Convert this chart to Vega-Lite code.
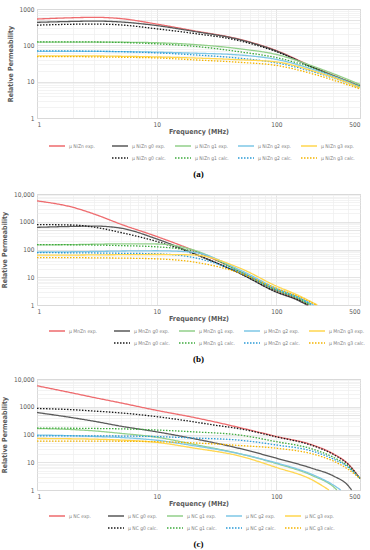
{
"$schema": "https://vega.github.io/schema/vega-lite/v6.json",
"padding": {"left": 0, "top": 5, "right": 4, "bottom": 0},
"spacing": 10,
"config": {
  "font": "Liberation Sans Narrow, DejaVu Sans Condensed, Roboto",
  "view": {"stroke": "#d9d9d9", "strokeWidth": 1},
  "axis": {"domain": false, "ticks": false, "labelFont": "Liberation Sans Narrow, DejaVu Sans Condensed, Roboto", "labelFontSize": 6.5, "labelColor": "#595959", "labelOverlap": false, "labelPadding": 3, "titleFont": "Liberation Sans Narrow, DejaVu Sans Condensed, Roboto", "titleFontSize": 7, "titleColor": "#595959", "titleFontWeight": "bold", "gridWidth": 0.7, "gridColor": {"condition": {"test": "indexof([1,10,100,1000,10000,500], datum.value) >= 0", "value": "#d9d9d9"}, "value": "#eeeeee"}},
  "legend": {"orient": "none", "legendX": 11, "legendY": 128, "direction": "horizontal", "columns": 5, "gridAlign": "all", "columnPadding": 6, "rowPadding": -2, "symbolType": "stroke", "symbolSize": 256, "symbolStrokeWidth": 1.5, "labelFontSize": 5, "labelColor": "#7f7f7f", "labelFont": "Liberation Sans Narrow, DejaVu Sans Condensed, Roboto", "labelOffset": 3, "title": null},
  "title": {"orient": "bottom", "font": "Liberation Serif", "fontWeight": "bold", "fontSize": 9, "color": "#000000", "anchor": "middle", "offset": 9},
  "line": {"strokeWidth": 1.3, "clip": true, "interpolate": "monotone"}
},
"datasets": {
"a": [
{"s":"μ NiZn exp.","f":1,"m":530},{"s":"μ NiZn exp.","f":2,"m":575},{"s":"μ NiZn exp.","f":3,"m":590},{"s":"μ NiZn exp.","f":5,"m":545},{"s":"μ NiZn exp.","f":10,"m":385},{"s":"μ NiZn exp.","f":20,"m":255},{"s":"μ NiZn exp.","f":50,"m":145},{"s":"μ NiZn exp.","f":100,"m":72},{"s":"μ NiZn exp.","f":200,"m":26},{"s":"μ NiZn exp.","f":300,"m":15},{"s":"μ NiZn exp.","f":500,"m":7.6},
{"s":"μ NiZn g0 exp.","f":1,"m":430},{"s":"μ NiZn g0 exp.","f":2,"m":455},{"s":"μ NiZn g0 exp.","f":3,"m":465},{"s":"μ NiZn g0 exp.","f":5,"m":440},{"s":"μ NiZn g0 exp.","f":10,"m":350},{"s":"μ NiZn g0 exp.","f":20,"m":245},{"s":"μ NiZn g0 exp.","f":50,"m":142},{"s":"μ NiZn g0 exp.","f":100,"m":70},{"s":"μ NiZn g0 exp.","f":200,"m":25},{"s":"μ NiZn g0 exp.","f":300,"m":14.5},{"s":"μ NiZn g0 exp.","f":500,"m":7.4},
{"s":"μ NiZn g0 calc.","f":1,"m":360},{"s":"μ NiZn g0 calc.","f":2,"m":380},{"s":"μ NiZn g0 calc.","f":3,"m":385},{"s":"μ NiZn g0 calc.","f":5,"m":365},{"s":"μ NiZn g0 calc.","f":10,"m":285},{"s":"μ NiZn g0 calc.","f":20,"m":215},{"s":"μ NiZn g0 calc.","f":50,"m":132},{"s":"μ NiZn g0 calc.","f":100,"m":67},{"s":"μ NiZn g0 calc.","f":200,"m":25},{"s":"μ NiZn g0 calc.","f":300,"m":14},{"s":"μ NiZn g0 calc.","f":500,"m":7.1},
{"s":"μ NiZn g1 exp.","f":1,"m":123},{"s":"μ NiZn g1 exp.","f":2,"m":123},{"s":"μ NiZn g1 exp.","f":3,"m":123},{"s":"μ NiZn g1 exp.","f":5,"m":122},{"s":"μ NiZn g1 exp.","f":10,"m":118},{"s":"μ NiZn g1 exp.","f":20,"m":106},{"s":"μ NiZn g1 exp.","f":50,"m":80},{"s":"μ NiZn g1 exp.","f":100,"m":56},{"s":"μ NiZn g1 exp.","f":200,"m":27},{"s":"μ NiZn g1 exp.","f":300,"m":16.5},{"s":"μ NiZn g1 exp.","f":500,"m":8.4},
{"s":"μ NiZn g1 calc.","f":1,"m":125},{"s":"μ NiZn g1 calc.","f":2,"m":125},{"s":"μ NiZn g1 calc.","f":3,"m":124},{"s":"μ NiZn g1 calc.","f":5,"m":120},{"s":"μ NiZn g1 calc.","f":10,"m":110},{"s":"μ NiZn g1 calc.","f":20,"m":95},{"s":"μ NiZn g1 calc.","f":50,"m":66},{"s":"μ NiZn g1 calc.","f":100,"m":46},{"s":"μ NiZn g1 calc.","f":200,"m":24},{"s":"μ NiZn g1 calc.","f":300,"m":14.5},{"s":"μ NiZn g1 calc.","f":500,"m":7.8},
{"s":"μ NiZn g2 exp.","f":1,"m":68},{"s":"μ NiZn g2 exp.","f":2,"m":68},{"s":"μ NiZn g2 exp.","f":3,"m":68},{"s":"μ NiZn g2 exp.","f":5,"m":67},{"s":"μ NiZn g2 exp.","f":10,"m":65},{"s":"μ NiZn g2 exp.","f":20,"m":61},{"s":"μ NiZn g2 exp.","f":50,"m":54},{"s":"μ NiZn g2 exp.","f":100,"m":41},{"s":"μ NiZn g2 exp.","f":200,"m":22},{"s":"μ NiZn g2 exp.","f":300,"m":14},{"s":"μ NiZn g2 exp.","f":500,"m":7.2},
{"s":"μ NiZn g2 calc.","f":1,"m":70},{"s":"μ NiZn g2 calc.","f":2,"m":70},{"s":"μ NiZn g2 calc.","f":3,"m":69},{"s":"μ NiZn g2 calc.","f":5,"m":67},{"s":"μ NiZn g2 calc.","f":10,"m":62},{"s":"μ NiZn g2 calc.","f":20,"m":55},{"s":"μ NiZn g2 calc.","f":50,"m":44},{"s":"μ NiZn g2 calc.","f":100,"m":33},{"s":"μ NiZn g2 calc.","f":200,"m":19},{"s":"μ NiZn g2 calc.","f":300,"m":12.5},{"s":"μ NiZn g2 calc.","f":500,"m":6.8},
{"s":"μ NiZn g3 exp.","f":1,"m":51},{"s":"μ NiZn g3 exp.","f":2,"m":51},{"s":"μ NiZn g3 exp.","f":3,"m":51},{"s":"μ NiZn g3 exp.","f":5,"m":50},{"s":"μ NiZn g3 exp.","f":10,"m":48},{"s":"μ NiZn g3 exp.","f":20,"m":45},{"s":"μ NiZn g3 exp.","f":50,"m":40},{"s":"μ NiZn g3 exp.","f":100,"m":35},{"s":"μ NiZn g3 exp.","f":200,"m":20},{"s":"μ NiZn g3 exp.","f":300,"m":13},{"s":"μ NiZn g3 exp.","f":500,"m":6.8},
{"s":"μ NiZn g3 calc.","f":1,"m":49},{"s":"μ NiZn g3 calc.","f":2,"m":49},{"s":"μ NiZn g3 calc.","f":3,"m":48},{"s":"μ NiZn g3 calc.","f":5,"m":47},{"s":"μ NiZn g3 calc.","f":10,"m":45},{"s":"μ NiZn g3 calc.","f":20,"m":40},{"s":"μ NiZn g3 calc.","f":50,"m":34},{"s":"μ NiZn g3 calc.","f":100,"m":28},{"s":"μ NiZn g3 calc.","f":200,"m":16.5},{"s":"μ NiZn g3 calc.","f":300,"m":11},{"s":"μ NiZn g3 calc.","f":500,"m":6.3}
],
"b": [
{"s":"μ MnZn exp.","f":1,"m":5650},{"s":"μ MnZn exp.","f":2,"m":3300},{"s":"μ MnZn exp.","f":3,"m":1900},{"s":"μ MnZn exp.","f":5,"m":820},{"s":"μ MnZn exp.","f":10,"m":295},{"s":"μ MnZn exp.","f":20,"m":95},{"s":"μ MnZn exp.","f":50,"m":16},{"s":"μ MnZn exp.","f":100,"m":3.3},{"s":"μ MnZn exp.","f":150,"m":1.6},{"s":"μ MnZn exp.","f":185,"m":1},
{"s":"μ MnZn g0 exp.","f":1,"m":630},{"s":"μ MnZn g0 exp.","f":2,"m":680},{"s":"μ MnZn g0 exp.","f":3,"m":700},{"s":"μ MnZn g0 exp.","f":5,"m":590},{"s":"μ MnZn g0 exp.","f":10,"m":240},{"s":"μ MnZn g0 exp.","f":20,"m":75},{"s":"μ MnZn g0 exp.","f":50,"m":13.5},{"s":"μ MnZn g0 exp.","f":100,"m":2.9},{"s":"μ MnZn g0 exp.","f":150,"m":1.5},{"s":"μ MnZn g0 exp.","f":180,"m":1},
{"s":"μ MnZn g0 calc.","f":1,"m":790},{"s":"μ MnZn g0 calc.","f":2,"m":760},{"s":"μ MnZn g0 calc.","f":3,"m":640},{"s":"μ MnZn g0 calc.","f":5,"m":410},{"s":"μ MnZn g0 calc.","f":10,"m":195},{"s":"μ MnZn g0 calc.","f":20,"m":72},{"s":"μ MnZn g0 calc.","f":50,"m":13.5},{"s":"μ MnZn g0 calc.","f":100,"m":3},{"s":"μ MnZn g0 calc.","f":150,"m":1.6},{"s":"μ MnZn g0 calc.","f":185,"m":1},
{"s":"μ MnZn g1 exp.","f":1,"m":147},{"s":"μ MnZn g1 exp.","f":2,"m":150},{"s":"μ MnZn g1 exp.","f":3,"m":155},{"s":"μ MnZn g1 exp.","f":5,"m":160},{"s":"μ MnZn g1 exp.","f":10,"m":158},{"s":"μ MnZn g1 exp.","f":20,"m":98},{"s":"μ MnZn g1 exp.","f":50,"m":16},{"s":"μ MnZn g1 exp.","f":100,"m":3.5},{"s":"μ MnZn g1 exp.","f":150,"m":1.8},{"s":"μ MnZn g1 exp.","f":195,"m":1},
{"s":"μ MnZn g1 calc.","f":1,"m":150},{"s":"μ MnZn g1 calc.","f":2,"m":148},{"s":"μ MnZn g1 calc.","f":3,"m":145},{"s":"μ MnZn g1 calc.","f":5,"m":138},{"s":"μ MnZn g1 calc.","f":10,"m":125},{"s":"μ MnZn g1 calc.","f":20,"m":88},{"s":"μ MnZn g1 calc.","f":50,"m":15.5},{"s":"μ MnZn g1 calc.","f":100,"m":3.4},{"s":"μ MnZn g1 calc.","f":150,"m":1.75},{"s":"μ MnZn g1 calc.","f":190,"m":1},
{"s":"μ MnZn g2 exp.","f":1,"m":81},{"s":"μ MnZn g2 exp.","f":2,"m":83},{"s":"μ MnZn g2 exp.","f":3,"m":85},{"s":"μ MnZn g2 exp.","f":5,"m":88},{"s":"μ MnZn g2 exp.","f":10,"m":90},{"s":"μ MnZn g2 exp.","f":20,"m":80},{"s":"μ MnZn g2 exp.","f":50,"m":18},{"s":"μ MnZn g2 exp.","f":100,"m":4},{"s":"μ MnZn g2 exp.","f":150,"m":2},{"s":"μ MnZn g2 exp.","f":205,"m":1},
{"s":"μ MnZn g2 calc.","f":1,"m":77},{"s":"μ MnZn g2 calc.","f":2,"m":76},{"s":"μ MnZn g2 calc.","f":3,"m":75},{"s":"μ MnZn g2 calc.","f":5,"m":73},{"s":"μ MnZn g2 calc.","f":10,"m":70},{"s":"μ MnZn g2 calc.","f":20,"m":52},{"s":"μ MnZn g2 calc.","f":50,"m":15},{"s":"μ MnZn g2 calc.","f":100,"m":3.6},{"s":"μ MnZn g2 calc.","f":150,"m":1.9},{"s":"μ MnZn g2 calc.","f":200,"m":1},
{"s":"μ MnZn g3 exp.","f":1,"m":63},{"s":"μ MnZn g3 exp.","f":2,"m":63},{"s":"μ MnZn g3 exp.","f":3,"m":64},{"s":"μ MnZn g3 exp.","f":5,"m":65},{"s":"μ MnZn g3 exp.","f":10,"m":66},{"s":"μ MnZn g3 exp.","f":20,"m":64},{"s":"μ MnZn g3 exp.","f":50,"m":21},{"s":"μ MnZn g3 exp.","f":100,"m":4.8},{"s":"μ MnZn g3 exp.","f":150,"m":2.3},{"s":"μ MnZn g3 exp.","f":220,"m":1},
{"s":"μ MnZn g3 calc.","f":1,"m":51},{"s":"μ MnZn g3 calc.","f":2,"m":51},{"s":"μ MnZn g3 calc.","f":3,"m":50},{"s":"μ MnZn g3 calc.","f":5,"m":49},{"s":"μ MnZn g3 calc.","f":10,"m":46},{"s":"μ MnZn g3 calc.","f":20,"m":36},{"s":"μ MnZn g3 calc.","f":50,"m":14},{"s":"μ MnZn g3 calc.","f":100,"m":4},{"s":"μ MnZn g3 calc.","f":150,"m":2.1},{"s":"μ MnZn g3 calc.","f":215,"m":1}
],
"c": [
{"s":"μ NC exp.","f":1,"m":5700},{"s":"μ NC exp.","f":2,"m":3100},{"s":"μ NC exp.","f":3,"m":2150},{"s":"μ NC exp.","f":5,"m":1380},{"s":"μ NC exp.","f":10,"m":740},{"s":"μ NC exp.","f":20,"m":420},{"s":"μ NC exp.","f":30,"m":290},{"s":"μ NC exp.","f":50,"m":175},{"s":"μ NC exp.","f":100,"m":85},{"s":"μ NC exp.","f":200,"m":42},{"s":"μ NC exp.","f":300,"m":20},{"s":"μ NC exp.","f":400,"m":8.5},{"s":"μ NC exp.","f":500,"m":2.6},
{"s":"μ NC g0 exp.","f":1,"m":620},{"s":"μ NC g0 exp.","f":2,"m":400},{"s":"μ NC g0 exp.","f":3,"m":300},{"s":"μ NC g0 exp.","f":5,"m":200},{"s":"μ NC g0 exp.","f":10,"m":125},{"s":"μ NC g0 exp.","f":20,"m":72},{"s":"μ NC g0 exp.","f":50,"m":31},{"s":"μ NC g0 exp.","f":100,"m":14},{"s":"μ NC g0 exp.","f":200,"m":6},{"s":"μ NC g0 exp.","f":300,"m":3.2},{"s":"μ NC g0 exp.","f":400,"m":1.4},{"s":"μ NC g0 exp.","f":425,"m":1},
{"s":"μ NC g0 calc.","f":1,"m":870},{"s":"μ NC g0 calc.","f":2,"m":780},{"s":"μ NC g0 calc.","f":3,"m":700},{"s":"μ NC g0 calc.","f":5,"m":600},{"s":"μ NC g0 calc.","f":10,"m":440},{"s":"μ NC g0 calc.","f":20,"m":290},{"s":"μ NC g0 calc.","f":30,"m":220},{"s":"μ NC g0 calc.","f":50,"m":160},{"s":"μ NC g0 calc.","f":100,"m":82},{"s":"μ NC g0 calc.","f":200,"m":40},{"s":"μ NC g0 calc.","f":300,"m":19},{"s":"μ NC g0 calc.","f":400,"m":8.2},{"s":"μ NC g0 calc.","f":500,"m":2.6},
{"s":"μ NC g1 exp.","f":1,"m":165},{"s":"μ NC g1 exp.","f":2,"m":150},{"s":"μ NC g1 exp.","f":3,"m":135},{"s":"μ NC g1 exp.","f":5,"m":110},{"s":"μ NC g1 exp.","f":10,"m":80},{"s":"μ NC g1 exp.","f":20,"m":45},{"s":"μ NC g1 exp.","f":50,"m":20},{"s":"μ NC g1 exp.","f":100,"m":9},{"s":"μ NC g1 exp.","f":200,"m":3.3},{"s":"μ NC g1 exp.","f":300,"m":1.3},{"s":"μ NC g1 exp.","f":320,"m":1},
{"s":"μ NC g1 calc.","f":1,"m":170},{"s":"μ NC g1 calc.","f":2,"m":168},{"s":"μ NC g1 calc.","f":3,"m":165},{"s":"μ NC g1 calc.","f":5,"m":160},{"s":"μ NC g1 calc.","f":10,"m":145},{"s":"μ NC g1 calc.","f":20,"m":125},{"s":"μ NC g1 calc.","f":50,"m":95},{"s":"μ NC g1 calc.","f":100,"m":55},{"s":"μ NC g1 calc.","f":200,"m":30},{"s":"μ NC g1 calc.","f":300,"m":15},{"s":"μ NC g1 calc.","f":400,"m":7},{"s":"μ NC g1 calc.","f":500,"m":2.6},
{"s":"μ NC g2 exp.","f":1,"m":96},{"s":"μ NC g2 exp.","f":2,"m":90},{"s":"μ NC g2 exp.","f":3,"m":85},{"s":"μ NC g2 exp.","f":5,"m":78},{"s":"μ NC g2 exp.","f":10,"m":62},{"s":"μ NC g2 exp.","f":20,"m":40},{"s":"μ NC g2 exp.","f":50,"m":20},{"s":"μ NC g2 exp.","f":100,"m":9.5},{"s":"μ NC g2 exp.","f":200,"m":3.6},{"s":"μ NC g2 exp.","f":300,"m":1.5},{"s":"μ NC g2 exp.","f":345,"m":1},
{"s":"μ NC g2 calc.","f":1,"m":89},{"s":"μ NC g2 calc.","f":2,"m":89},{"s":"μ NC g2 calc.","f":3,"m":89},{"s":"μ NC g2 calc.","f":5,"m":88},{"s":"μ NC g2 calc.","f":10,"m":84},{"s":"μ NC g2 calc.","f":20,"m":75},{"s":"μ NC g2 calc.","f":50,"m":62},{"s":"μ NC g2 calc.","f":100,"m":42},{"s":"μ NC g2 calc.","f":200,"m":25},{"s":"μ NC g2 calc.","f":300,"m":13},{"s":"μ NC g2 calc.","f":400,"m":6.5},{"s":"μ NC g2 calc.","f":500,"m":2.6},
{"s":"μ NC g3 exp.","f":1,"m":72},{"s":"μ NC g3 exp.","f":2,"m":70},{"s":"μ NC g3 exp.","f":3,"m":68},{"s":"μ NC g3 exp.","f":5,"m":63},{"s":"μ NC g3 exp.","f":10,"m":52},{"s":"μ NC g3 exp.","f":20,"m":33},{"s":"μ NC g3 exp.","f":50,"m":16.5},{"s":"μ NC g3 exp.","f":100,"m":6.5},{"s":"μ NC g3 exp.","f":200,"m":2.3},{"s":"μ NC g3 exp.","f":275,"m":1},
{"s":"μ NC g3 calc.","f":1,"m":58},{"s":"μ NC g3 calc.","f":2,"m":58},{"s":"μ NC g3 calc.","f":3,"m":58},{"s":"μ NC g3 calc.","f":5,"m":57},{"s":"μ NC g3 calc.","f":10,"m":55},{"s":"μ NC g3 calc.","f":20,"m":50},{"s":"μ NC g3 calc.","f":50,"m":40},{"s":"μ NC g3 calc.","f":100,"m":32},{"s":"μ NC g3 calc.","f":200,"m":20},{"s":"μ NC g3 calc.","f":300,"m":11},{"s":"μ NC g3 calc.","f":400,"m":5.5},{"s":"μ NC g3 calc.","f":500,"m":2.6}
]
},
"vconcat": [
{
  "width": 323, "height": 109,
  "title": "(a)",
  "data": {"name": "a"},
  "mark": {"type": "line"},
  "encoding": {
    "x": {"field": "f", "type": "quantitative", "title": "Frequency (MHz)", "scale": {"type": "log", "domain": [1, 500], "nice": false}, "axis": {"values": [1,2,3,4,5,6,7,8,9,10,20,30,40,50,60,70,80,90,100,200,300,400,500], "labelExpr": "indexof([1,10,100,500], datum.value) >= 0 ? datum.value + '' : ''", "titlePadding": 0}},
    "y": {"field": "m", "type": "quantitative", "title": "Relative Permeability", "scale": {"type": "log", "domain": [1, 1000], "nice": false}, "axis": {"values": [1,2,3,4,5,6,7,8,9,10,20,30,40,50,60,70,80,90,100,200,300,400,500,600,700,800,900,1000], "labelExpr": "indexof([1,10,100,1000], datum.value) >= 0 ? datum.value + '' : ''", "titlePadding": 6}},
    "color": {"field": "s", "type": "nominal", "scale": {"domain": ["μ NiZn exp.","μ NiZn g0 exp.","μ NiZn g1 exp.","μ NiZn g2 exp.","μ NiZn g3 exp."," ","μ NiZn g0 calc.","μ NiZn g1 calc.","μ NiZn g2 calc.","μ NiZn g3 calc."], "range": ["#ee6b6e","#595959","#93d08b","#7fc7e6","#ffd64f","rgba(0,0,0,0)","#1a1a1a","#3eaa3e","#2b9bd6","#f4b400"]}},
    "strokeDash": {"field": "s", "type": "nominal", "scale": {"domain": ["μ NiZn exp.","μ NiZn g0 exp.","μ NiZn g1 exp.","μ NiZn g2 exp.","μ NiZn g3 exp."," ","μ NiZn g0 calc.","μ NiZn g1 calc.","μ NiZn g2 calc.","μ NiZn g3 calc."], "range": [[1,0],[1,0],[1,0],[1,0],[1,0],[1,0],[1.5,1.5],[1.5,1.5],[1.5,1.5],[1.5,1.5]]}}
  }
},
{
  "width": 323, "height": 111,
  "title": "(b)",
  "data": {"name": "b"},
  "mark": {"type": "line"},
  "encoding": {
    "x": {"field": "f", "type": "quantitative", "title": "Frequency (MHz)", "scale": {"type": "log", "domain": [1, 500], "nice": false}, "axis": {"values": [1,2,3,4,5,6,7,8,9,10,20,30,40,50,60,70,80,90,100,200,300,400,500], "labelExpr": "indexof([1,10,100,500], datum.value) >= 0 ? datum.value + '' : ''", "titlePadding": 0}},
    "y": {"field": "m", "type": "quantitative", "title": "Relative Permeability", "scale": {"type": "log", "domain": [1, 10000], "nice": false}, "axis": {"values": [1,2,3,4,5,6,7,8,9,10,20,30,40,50,60,70,80,90,100,200,300,400,500,600,700,800,900,1000,2000,3000,4000,5000,6000,7000,8000,9000,10000], "labelExpr": "datum.value == 10000 ? '10,000' : (indexof([1,10,100,1000], datum.value) >= 0 ? datum.value + '' : '')", "titlePadding": 6}},
    "color": {"field": "s", "type": "nominal", "scale": {"domain": ["μ MnZn exp.","μ MnZn g0 exp.","μ MnZn g1 exp.","μ MnZn g2 exp.","μ MnZn g3 exp."," ","μ MnZn g0 calc.","μ MnZn g1 calc.","μ MnZn g2 calc.","μ MnZn g3 calc."], "range": ["#ee6b6e","#595959","#93d08b","#7fc7e6","#ffd64f","rgba(0,0,0,0)","#1a1a1a","#3eaa3e","#2b9bd6","#f4b400"]}},
    "strokeDash": {"field": "s", "type": "nominal", "scale": {"domain": ["μ MnZn exp.","μ MnZn g0 exp.","μ MnZn g1 exp.","μ MnZn g2 exp.","μ MnZn g3 exp."," ","μ MnZn g0 calc.","μ MnZn g1 calc.","μ MnZn g2 calc.","μ MnZn g3 calc."], "range": [[1,0],[1,0],[1,0],[1,0],[1,0],[1,0],[1.5,1.5],[1.5,1.5],[1.5,1.5],[1.5,1.5]]}}
  }
},
{
  "width": 323, "height": 111,
  "title": "(c)",
  "data": {"name": "c"},
  "mark": {"type": "line"},
  "encoding": {
    "x": {"field": "f", "type": "quantitative", "title": "Frequency (MHz)", "scale": {"type": "log", "domain": [1, 500], "nice": false}, "axis": {"values": [1,2,3,4,5,6,7,8,9,10,20,30,40,50,60,70,80,90,100,200,300,400,500], "labelExpr": "indexof([1,10,100,500], datum.value) >= 0 ? datum.value + '' : ''", "titlePadding": 0}},
    "y": {"field": "m", "type": "quantitative", "title": "Relative Permeability", "scale": {"type": "log", "domain": [1, 10000], "nice": false}, "axis": {"values": [1,2,3,4,5,6,7,8,9,10,20,30,40,50,60,70,80,90,100,200,300,400,500,600,700,800,900,1000,2000,3000,4000,5000,6000,7000,8000,9000,10000], "labelExpr": "datum.value == 10000 ? '10,000' : (indexof([1,10,100,1000], datum.value) >= 0 ? datum.value + '' : '')", "titlePadding": 6}},
    "color": {"field": "s", "type": "nominal", "scale": {"domain": ["μ NC exp.","μ NC g0 exp.","μ NC g1 exp.","μ NC g2 exp.","μ NC g3 exp."," ","μ NC g0 calc.","μ NC g1 calc.","μ NC g2 calc.","μ NC g3 calc."], "range": ["#ee6b6e","#595959","#93d08b","#7fc7e6","#ffd64f","rgba(0,0,0,0)","#1a1a1a","#3eaa3e","#2b9bd6","#f4b400"]}},
    "strokeDash": {"field": "s", "type": "nominal", "scale": {"domain": ["μ NC exp.","μ NC g0 exp.","μ NC g1 exp.","μ NC g2 exp.","μ NC g3 exp."," ","μ NC g0 calc.","μ NC g1 calc.","μ NC g2 calc.","μ NC g3 calc."], "range": [[1,0],[1,0],[1,0],[1,0],[1,0],[1,0],[1.5,1.5],[1.5,1.5],[1.5,1.5],[1.5,1.5]]}}
  }
}
],
"resolve": {"scale": {"color": "independent", "strokeDash": "independent", "y": "independent"}, "legend": {"color": "independent", "strokeDash": "independent"}}
}
